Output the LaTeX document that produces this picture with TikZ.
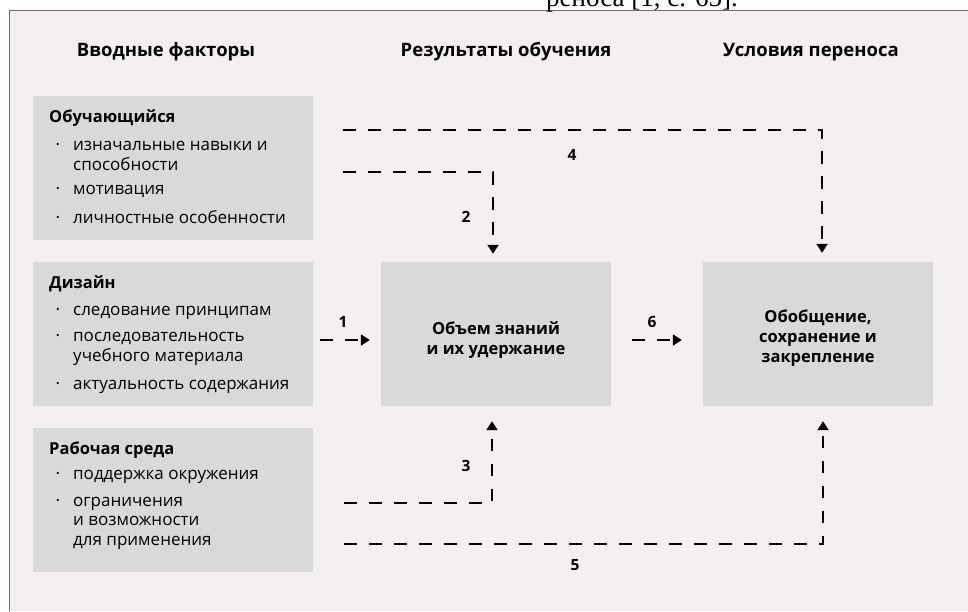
\documentclass[tikz,border=0pt]{standalone}
\usepackage{fontspec}
\setmainfont{Open Sans}
\newfontfamily\capfont{Liberation Serif}
\usepackage{xcolor}
\usetikzlibrary{calc,arrows.meta}

\definecolor{sheet}{HTML}{F3F0EF}
\definecolor{boxgray}{HTML}{D9D9D9}
\definecolor{framegray}{HTML}{6E6E6E}

\newcommand{\dotitem}{\llap{\textperiodcentered\hspace{13pt}}}

\tikzset{
	factor/.style={fill=boxgray, minimum width=280pt, minimum height=144pt, inner sep=0pt},
	result/.style={fill=boxgray, minimum width=230pt, minimum height=144pt, inner sep=0pt},
	resulttext/.style={align=center, inner sep=0pt, font=\bfseries\fontsize{16.5}{20}\selectfont},
	head/.style={font=\bfseries\fontsize{18.5}{22}\selectfont},
	boxtitle/.style={anchor=base west, inner sep=0pt, font=\bfseries\fontsize{16.5}{20}\selectfont},
	point/.style={anchor=base west, inner sep=0pt, align=left, font=\fontsize{17}{19.5}\selectfont},
	num/.style={font=\bfseries\fontsize{15.5}{18}\selectfont},
	flow/.style={line width=2pt, dash pattern=on 12.5pt off 12.5pt,
		-{Triangle[width=11pt,length=9pt]}},
}

\begin{document}
\begin{tikzpicture}[x=1pt, y=-1pt]

	\useasboundingbox (0,0) rectangle (968,611);
	\clip (0,0) rectangle (968,611);

	% sheet and frame
	\fill[sheet] (9,10) rectangle (968,611);
	\draw[framegray, line width=1pt] (9,611) -- (9,10) -- (968,10);
	\node[font=\capfont\fontsize{27}{30}\selectfont, anchor=base] (caption) at (642,6.5) {реноса [1, с. 65].};

	% column heads
	\node[head] (headin) at (166,52) {Вводные факторы};
	\node[head] (headres) at (506,52) {Результаты обучения};
	\node[head] (headcond) at (811,52) {Условия переноса};

	% input factors (multi-line points sit on their last line)
	\node[factor] (learner) at (173,167.5) {};
	\node[boxtitle] (learnertitle) at (49,122) {Обучающийся};
	\node[point] (learnera) at (73,170) {\dotitem изначальные навыки и\\способности};
	\node[point] (learnerb) at (73,194) {\dotitem мотивация};
	\node[point] (learnerc) at (73,223) {\dotitem личностные особенности};

	\node[factor] (design) at (173,334) {};
	\node[boxtitle] (designtitle) at (49,288) {Дизайн};
	\node[point] (designa) at (73,315) {\dotitem следование принципам};
	\node[point] (designb) at (73,361) {\dotitem последовательность\\учебного материала};
	\node[point] (designc) at (73,389) {\dotitem актуальность содержания};

	\node[factor] (work) at (173,500) {};
	\node[boxtitle] (worktitle) at (49,454) {Рабочая среда};
	\node[point] (worka) at (73,479) {\dotitem поддержка окружения};
	\node[point] (workb) at (73,545) {\dotitem ограничения\\и возможности\\для применения};

	% results
	\node[result] (know) at (496,334) {};
	\node[resulttext] (knowtext) at ($(know.center)+(0,6)$) {Объем знаний\\и их удержание};
	\node[result] (gen) at (818,334) {};
	\node[resulttext] (gentext) at ($(gen.center)+(0,4)$) {Обобщение,\\сохранение и\\закрепление};

	% connectors
	\coordinate (s4) at (343,130);
	\coordinate (c4) at (822,130);
	\draw[flow] (s4) -- (c4) -- ($(c4 |- gen.north)+(0,-9)$);

	\coordinate (s2) at (343,172);
	\coordinate (c2) at (493,172);
	\draw[flow] (s2) -- (c2) -- ($(c2 |- know.north)+(0,-8)$);

	\coordinate (s1) at (320,340);
	\draw[flow] (s1) -- ($(s1 -| know.west)+(-11,0)$);
	\draw[flow] ($(s1 -| know.east)+(21,0)$) -- ($(s1 -| gen.west)+(-21,0)$);

	\coordinate (s3) at (344,503);
	\coordinate (c3) at (492,503);
	\draw[flow] (s3) -- (c3) -- ($(c3 |- know.south)+(0,15)$);

	\coordinate (s5) at (344,544);
	\coordinate (c5) at (823,544);
	\draw[flow] (s5) -- (c5) -- ($(c5 |- gen.south)+(0,15)$);

	% numbers
	\node[num] (n1) at (343,322) {1};
	\node[num] (n2) at (466,217) {2};
	\node[num] (n3) at (466,466) {3};
	\node[num] (n4) at (572,155) {4};
	\node[num] (n5) at (575,565) {5};
	\node[num] (n6) at (652,322) {6};

\end{tikzpicture}
\end{document}
